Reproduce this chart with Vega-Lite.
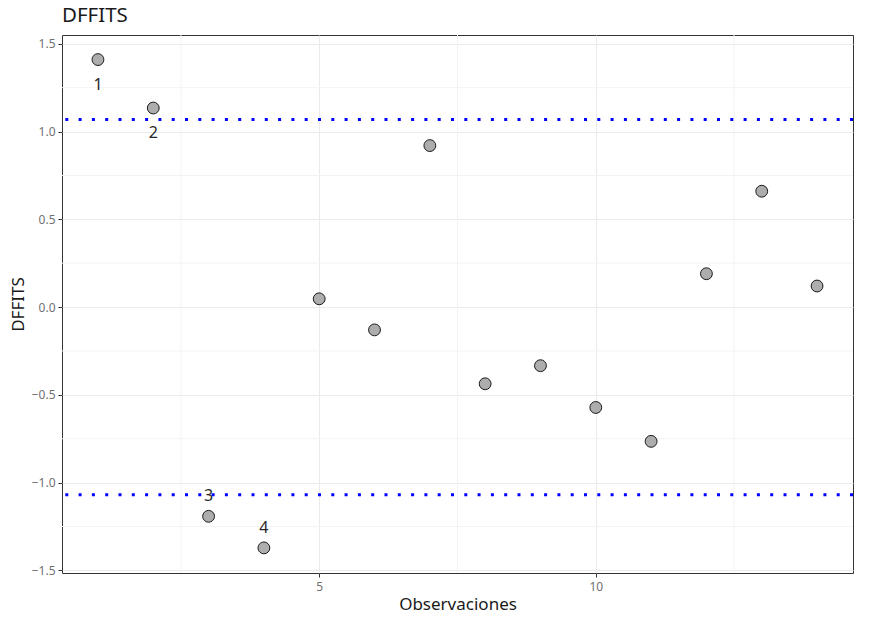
{
  "$schema": "https://vega.github.io/schema/vega-lite/v6.json",
  "width": 791,
  "height": 538,
  "autosize": "none",
  "padding": {"left": 62, "top": 35, "right": 18, "bottom": 47},
  "background": "white",
  "config": {
    "font": "Noto Sans",
    "view": {"stroke": "#333333", "strokeWidth": 1},
    "axis": {
      "grid": true,
      "gridColor": "#EBEBEB",
      "gridWidth": 1,
      "domain": false,
      "tickColor": "#333333",
      "tickSize": 4,
      "labelColor": "#707070",
      "labelFontSize": 12,
      "titleColor": "#1A1A1A",
      "titleFontSize": 17,
      "titleFontWeight": "normal"
    }
  },
  "title": {
    "text": "DFFITS",
    "anchor": "start",
    "frame": "group",
    "fontSize": 20.5,
    "fontWeight": "normal",
    "color": "#1A1A1A",
    "offset": 8
  },
  "datasets": {
    "pts": [
      {"obs": 1, "dffits": 1.41},
      {"obs": 2, "dffits": 1.134},
      {"obs": 3, "dffits": -1.192},
      {"obs": 4, "dffits": -1.372},
      {"obs": 5, "dffits": 0.047},
      {"obs": 6, "dffits": -0.13},
      {"obs": 7, "dffits": 0.92},
      {"obs": 8, "dffits": -0.437},
      {"obs": 9, "dffits": -0.334},
      {"obs": 10, "dffits": -0.572},
      {"obs": 11, "dffits": -0.765},
      {"obs": 12, "dffits": 0.19},
      {"obs": 13, "dffits": 0.66},
      {"obs": 14, "dffits": 0.12}
    ],
    "labels": [
      {"obs": 1, "dffits": 1.41, "label": "1"},
      {"obs": 2, "dffits": 1.134, "label": "2"},
      {"obs": 3, "dffits": -1.192, "label": "3"},
      {"obs": 4, "dffits": -1.372, "label": "4"}
    ],
    "thr": [{"y": 1.069}, {"y": -1.069}],
    "minx": [{"x": 2.5}, {"x": 7.5}, {"x": 12.5}],
    "miny": [{"y": -1.25}, {"y": -0.75}, {"y": -0.25}, {"y": 0.25}, {"y": 0.75}, {"y": 1.25}]
  },
  "layer": [
    {
      "data": {"name": "minx"},
      "mark": {"type": "rule", "color": "#F3F3F3", "strokeWidth": 1},
      "encoding": {
        "x": {"field": "x", "type": "quantitative", "scale": {"domain": [0.35, 14.65], "nice": false, "zero": false}}
      }
    },
    {
      "data": {"name": "miny"},
      "mark": {"type": "rule", "color": "#F3F3F3", "strokeWidth": 1},
      "encoding": {
        "y": {"field": "y", "type": "quantitative"}
      }
    },
    {
      "data": {"name": "thr"},
      "mark": {"type": "rule", "color": "#0000FF", "strokeWidth": 3, "strokeDash": [3, 10.3]},
      "encoding": {
        "y": {"field": "y", "type": "quantitative"}
      }
    },
    {
      "data": {"name": "pts"},
      "mark": {"type": "point", "shape": "circle", "filled": true, "fill": "#ADADAD", "stroke": "#1A1A1A", "strokeWidth": 1, "opacity": 1, "size": 140},
      "encoding": {
        "x": {
          "field": "obs", "type": "quantitative", "title": "Observaciones",
          "scale": {"domain": [0.35, 14.65], "nice": false, "zero": false},
          "axis": {"values": [5, 10], "labelPadding": 4, "titlePadding": 4}
        },
        "y": {
          "field": "dffits", "type": "quantitative", "title": "DFFITS",
          "scale": {"domain": [-1.515, 1.55], "nice": false, "zero": false},
          "axis": {"values": [-1.5, -1.0, -0.5, 0.0, 0.5, 1.0, 1.5], "format": ".1f", "labelPadding": 3, "titlePadding": 4}
        }
      }
    },
    {
      "data": {"name": "labels"},
      "transform": [{"filter": "datum.dffits > 0"}],
      "mark": {"type": "text", "fontSize": 16, "color": "#262626", "dy": 25},
      "encoding": {
        "x": {"field": "obs", "type": "quantitative"},
        "y": {"field": "dffits", "type": "quantitative"},
        "text": {"field": "label"}
      }
    },
    {
      "data": {"name": "labels"},
      "transform": [{"filter": "datum.dffits < 0"}],
      "mark": {"type": "text", "fontSize": 16, "color": "#262626", "dy": -20},
      "encoding": {
        "x": {"field": "obs", "type": "quantitative"},
        "y": {"field": "dffits", "type": "quantitative"},
        "text": {"field": "label"}
      }
    }
  ]
}
